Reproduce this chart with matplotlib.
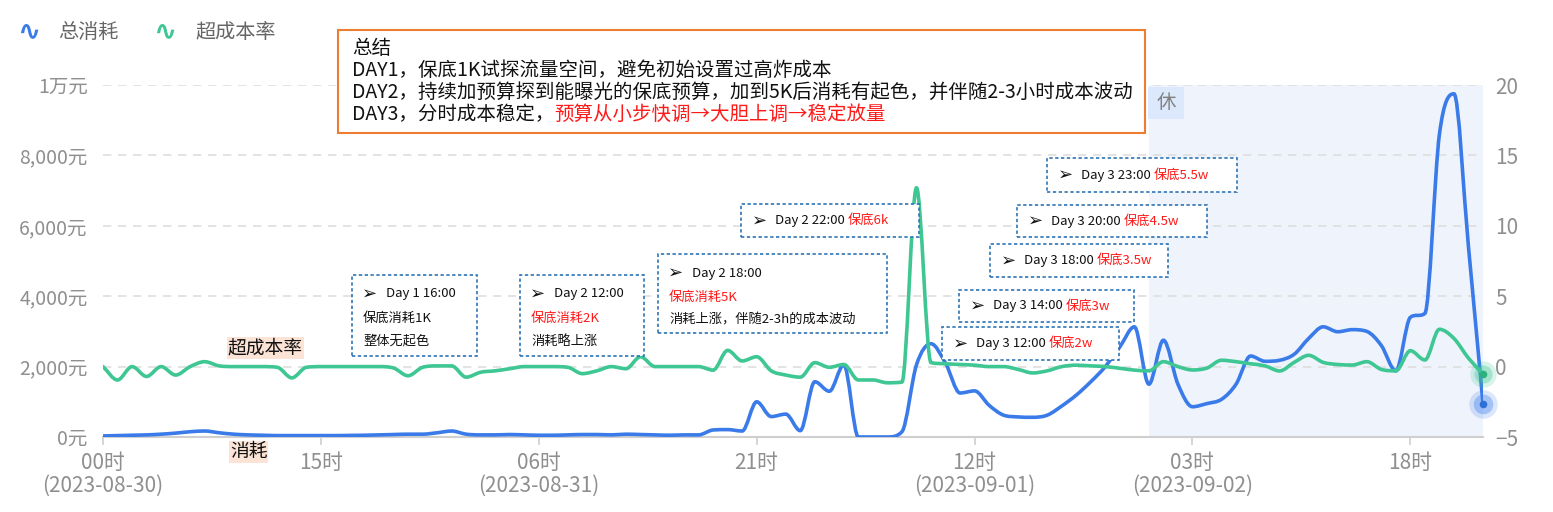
import numpy as np
import matplotlib
matplotlib.use("Agg")
import matplotlib.pyplot as plt
from matplotlib.path import Path
from matplotlib.patches import PathPatch, Rectangle
from matplotlib.text import Annotation

plt.rcParams['font.family'] = ['Noto Sans CJK SC', 'DejaVu Sans']

W, H = 1553, 512

# 每小时数据，00时(2023-08-30) 起，共 96 个点
hours = list(range(96))
spend = [30, 40, 50, 60, 80, 110, 150, 170, 120, 80,
         60, 50, 40, 40, 40, 40, 40, 45, 50, 60,
         70, 80, 80, 120, 170, 80, 60, 60, 70, 60,
         50, 50, 60, 70, 70, 60, 80, 70, 60, 50,
         60, 60, 200, 210, 170, 1000, 580, 650, 180, 1570,
         1300, 2050, 0, 0, 0, 150, 2050, 2650, 2100, 1250,
         1310, 900, 620, 570, 560, 620, 880, 1190, 1570, 2000,
         2560, 3130, 1500, 2750, 1500, 860, 950, 1070, 1500, 2300,
         2150, 2180, 2350, 2800, 3130, 2990, 3050, 3000, 2600, 1880,
         3400, 3510, 8600, 9750, 5400, 950]
over_rate = [0, -0.95, 0, -0.7, 0, -0.6, 0, 0.35, 0.05, 0,
             0, 0, -0.05, -0.8, -0.05, 0, 0, 0, 0, 0,
             -0.1, -0.65, -0.05, 0.05, 0.05, -0.75, -0.4, -0.3, -0.15, 0,
             0, 0, -0.05, -0.5, -0.3, 0, -0.15, 0.7, 0, 0,
             0, 0, -0.25, 1.15, 0.4, 0.7, -0.3, -0.6, -0.75, 0.28,
             -0.05, 0.15, -0.95, -0.95, -1.15, -1.1, 12.7, 0.28, 0.2, 0.15,
             0.1, 0, 0, -0.2, -0.45, -0.3, 0, 0.1, 0.05, 0,
             -0.12, -0.25, -0.3, 0.35, 0, -0.24, -0.1, 0.45, 0.35, 0.2,
             0.05, -0.31, 0.3, 0.8, 0.3, 0.15, 0.11, 0.35, -0.2, -0.3,
             1.13, 0.47, 2.65, 2.0, 0.6, -0.52]

xtick_pos = [0, 15, 30, 45, 60, 75, 90]
xtick_labels = ["00时\n(2023-08-30)", "15时", "06时\n(2023-08-31)", "21时",
                "12时\n(2023-09-01)", "03时\n(2023-09-02)", "18时"]
left_ticks = [0, 2000, 4000, 6000, 8000, 10000]
left_labels = ["0元", "2,000元", "4,000元", "6,000元", "8,000元", "1万元"]
right_ticks = [-5, 0, 5, 10, 15, 20]
rest_span = (72, 95)

summary_lines = ["总结",
                 "DAY1，保底1K试探流量空间，避免初始设置过高炸成本",
                 "DAY2，持续加预算探到能曝光的保底预算，加到5K后消耗有起色，并伴随2-3小时成本波动",
                 "DAY3，分时成本稳定，"]
summary_red = "预算从小步快调→大胆上调→稳定放量"

# 单行标注框: 左, 上, 右, 下 (像素), 黑字, 红字
notes_single = [
    (741, 204, 919, 237, "Day 2 22:00 ", "保底6k"),
    (1047, 158, 1237, 192, "Day 3 23:00 ", "保底5.5w"),
    (1017, 205, 1207, 237, "Day 3 20:00 ", "保底4.5w"),
    (990, 244, 1168, 277, "Day 3 18:00 ", "保底3.5w"),
    (959, 290, 1134, 322, "Day 3 14:00 ", "保底3w"),
    (942, 327, 1119, 360, "Day 3 12:00 ", "保底2w"),
]
# 三行标注框
notes_multi = [
    (352, 275, 477, 356, "Day 1 16:00", ("保底消耗1K", "black"), "整体无起色"),
    (520, 275, 644, 356, "Day 2 12:00", ("保底消耗2K", "red"), "消耗略上涨"),
    (658, 254, 887, 333, "Day 2 18:00", ("保底消耗5K", "red"), "消耗上涨，伴随2-3h的成本波动"),
]

BLUE = "#3a7be9"
GREEN = "#3ec693"
GRAY = "#8f8f8f"


def fx(x):
    return x / W


def fy(y):
    return 1 - y / H


def smooth_path(xs, ys):
    # 单调三次贝塞尔, 不会冲过数据点
    xs = np.asarray(xs, float)
    ys = np.asarray(ys, float)
    n = len(xs)
    sec = np.diff(ys) / np.diff(xs)
    k = np.zeros(n)
    k[0], k[-1] = sec[0], sec[-1]
    for i in range(1, n - 1):
        if sec[i - 1] * sec[i] <= 0:
            k[i] = 0
        else:
            t = (ys[i + 1] - ys[i - 1]) / (xs[i + 1] - xs[i - 1])
            lim = 3 * min(abs(sec[i - 1]), abs(sec[i]))
            k[i] = np.sign(t) * min(abs(t), lim)
    verts = [(xs[0], ys[0])]
    codes = [Path.MOVETO]
    for i in range(n - 1):
        d = (xs[i + 1] - xs[i]) / 3
        verts += [(xs[i] + d, ys[i] + k[i] * d),
                  (xs[i + 1] - d, ys[i + 1] - k[i + 1] * d),
                  (xs[i + 1], ys[i + 1])]
        codes += [Path.CURVE4] * 3
    return Path(verts, codes)


fig = plt.figure(figsize=(W / 100, H / 100), dpi=100, facecolor="white")
ax = fig.add_axes([fx(103), fy(437), (1483 - 103) / W, (437 - 85) / H])
ax2 = ax.twinx()

ax.set_xlim(0, 95)
ax.set_ylim(0, 10000)
ax2.set_ylim(-5, 20)

ax.axvspan(*rest_span, color="#eef3fc", zorder=0, lw=0)

ax.set_yticks(left_ticks)
ax.set_yticklabels(left_labels)
ax2.set_yticks(right_ticks)
ax.set_xticks(xtick_pos)
ax.set_xticklabels(xtick_labels, linespacing=1.05)

ax.grid(axis="y", color="#dedede", linestyle=(0, (5, 4)), linewidth=1.2)
ax.set_axisbelow(True)
for a in (ax, ax2):
    for s in a.spines.values():
        s.set_visible(False)
ax.spines["bottom"].set_visible(True)
ax.spines["bottom"].set_color("#cfcfcf")
ax.spines["bottom"].set_linewidth(1.5)

ax.tick_params(axis="y", length=0, pad=11, labelsize=14, labelcolor=GRAY)
ax2.tick_params(axis="y", length=0, pad=9, labelsize=15, labelcolor=GRAY)
ax.tick_params(axis="x", length=6, width=1.2, color="#cfcfcf", pad=5,
               labelsize=15, labelcolor=GRAY)

ax.add_patch(PathPatch(smooth_path(hours, spend), fill=False, edgecolor=BLUE,
                       lw=2.6, capstyle="round", joinstyle="round", zorder=3))
ax2.add_patch(PathPatch(smooth_path(hours, over_rate), fill=False, edgecolor=GREEN,
                        lw=2.6, capstyle="round", joinstyle="round", zorder=3))

# 末端高亮点
ax.scatter([hours[-1]], [spend[-1]], s=420, color=BLUE, alpha=0.18, lw=0, zorder=4, clip_on=False)
ax.scatter([hours[-1]], [spend[-1]], s=200, color=BLUE, alpha=0.35, lw=0, zorder=4, clip_on=False)
ax.scatter([hours[-1]], [spend[-1]], s=30, color="#2f6fd8", lw=0, zorder=5, clip_on=False)
ax2.scatter([hours[-1]], [over_rate[-1]], s=360, color=GREEN, alpha=0.2, lw=0, zorder=4, clip_on=False)
ax2.scatter([hours[-1]], [over_rate[-1]], s=170, color=GREEN, alpha=0.35, lw=0, zorder=4, clip_on=False)
ax2.scatter([hours[-1]], [over_rate[-1]], s=30, color="#2fb07f", lw=0, zorder=5, clip_on=False)

# 图例
fig.text(fx(29), fy(31), "∿", color=BLUE, fontsize=20, fontweight="bold",
         ha="center", va="center", family="DejaVu Sans")
fig.text(fx(58), fy(32), "总消耗", color="#666666", fontsize=14.5, va="center")
fig.text(fx(165), fy(31), "∿", color=GREEN, fontsize=20, fontweight="bold",
         ha="center", va="center", family="DejaVu Sans")
fig.text(fx(195), fy(32), "超成本率", color="#666666", fontsize=14.5, va="center")

# 系列标签
fig.text(fx(228), fy(348), "超成本率", fontsize=13.5, color="#111111", va="center",
         bbox=dict(boxstyle="square,pad=0.05", fc="#fbe3d6", ec="none"))
fig.text(fx(230), fy(452), "消耗", fontsize=13.5, color="#111111", va="center",
         bbox=dict(boxstyle="square,pad=0.05", fc="#fbe3d6", ec="none"))

# 休
fig.patches.append(Rectangle((fx(1148), fy(119)), 36 / W, 32 / H, transform=fig.transFigure,
                             fc="#dce8fb", ec="none", zorder=1))
fig.text(fx(1166), fy(103), "休", fontsize=14, color="#808080", ha="center", va="center")

# 总结框
fig.patches.append(Rectangle((fx(338), fy(133)), (1145 - 338) / W, (133 - 30) / H,
                             transform=fig.transFigure, fc="white", ec="#ed7d31", lw=1.5, zorder=2))
for i, line in enumerate(summary_lines):
    t = fig.text(fx(352), fy(48 + 22 * i), line, fontsize=14, color="#111111",
                 va="center", zorder=3)
fig.add_artist(Annotation(summary_red, xy=(1, 0.5), xycoords=t, va="center",
                          fontsize=14, color="#ff1a1a", zorder=3))


def note_box(l, t, r, b):
    fig.patches.append(Rectangle((fx(l), fy(b)), (r - l) / W, (b - t) / H,
                                 transform=fig.transFigure, fc="white", ec="#2e75b6",
                                 lw=1.2, ls=(0, (2, 1.5)), zorder=2))


for l, t, r, b, black, red in notes_single:
    note_box(l, t, r, b)
    yc = fy((t + b) / 2)
    fig.text(fx(l + 11), yc, "➢", fontsize=13, color="#111111", va="center", zorder=3)
    tx = fig.text(fx(l + 34), yc, black, fontsize=9.5, color="#111111", va="center", zorder=3)
    fig.add_artist(Annotation(red, xy=(1, 0.5), xycoords=tx, va="center",
                              fontsize=9.5, color="#ff1a1a", zorder=3))

for l, t, r, b, head, (mid, midc), tail in notes_multi:
    note_box(l, t, r, b)
    fig.text(fx(l + 10), fy(t + 19), "➢", fontsize=13, color="#111111", va="center", zorder=3)
    fig.text(fx(l + 34), fy(t + 19), head, fontsize=9.5, color="#111111", va="center", zorder=3)
    fig.text(fx(l + 11), fy(t + 43), mid, fontsize=9.5,
             color="#ff1a1a" if midc == "red" else "#111111", va="center", zorder=3)
    fig.text(fx(l + 11), fy(t + 66), tail, fontsize=9.5, color="#111111", va="center", zorder=3)

fig.savefig("out.png", dpi=100, facecolor="white")
